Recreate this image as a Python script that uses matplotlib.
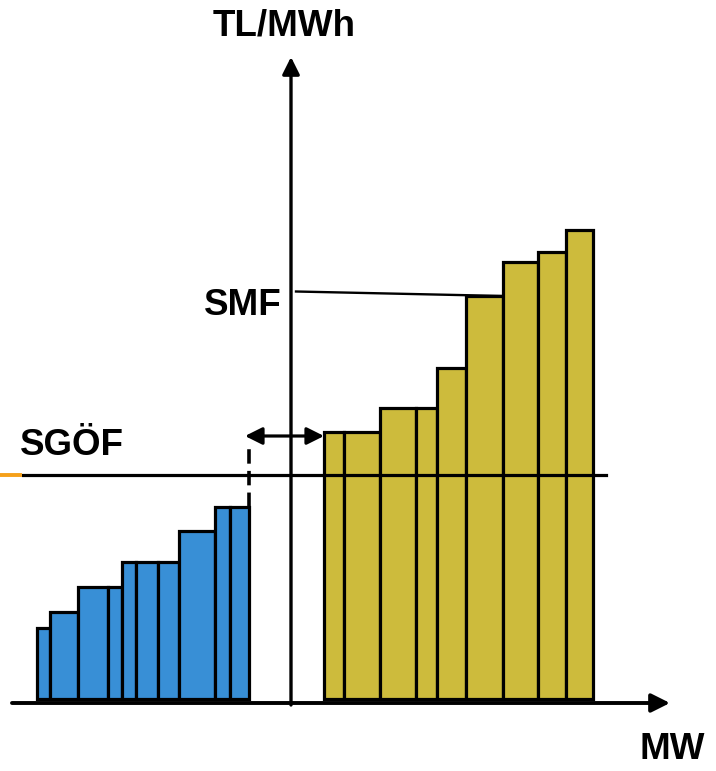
import matplotlib.pyplot as plt
import numpy as np

# schematic merit-order data (x in MW, y in TL/MWh, arbitrary units)
blue_start = -254.3
blue_widths = [13.3, 28.3, 29.4, 14.3, 14.0, 21.7, 21.6, 35.7, 15.0, 19.3]
blue_heights = [71, 87, 112, 112, 137, 137, 137, 168, 192, 192]

yellow_start = 33.0
yellow_widths = [20.3, 35.7, 36.0, 21.3, 28.7, 37.3, 35.0, 27.7, 26.7]
yellow_heights = [267, 267, 291, 291, 331, 403, 437, 447, 469]

sgof_price = 224
smf_price = 404

BLUE = '#388FD6'
YELLOW = '#CDBB3C'
ORANGE = '#F5A01A'
FONT = 'Liberation Sans'


def draw_bars(ax, start, widths, heights, color):
    lefts = start + np.concatenate([[0], np.cumsum(widths)[:-1]])
    ax.bar(lefts, heights, width=widths, align='edge', color=color,
           edgecolor='black', linewidth=2.3, zorder=2)
    return lefts


def main():
    fig = plt.figure(figsize=(7.16, 7.71), dpi=100)
    ax = fig.add_axes([0, 0, 1, 1])
    ax.set_xlim(-291, 425)
    ax.set_ylim(-72, 699)
    ax.axis('off')

    blue_lefts = draw_bars(ax, blue_start, blue_widths, blue_heights, BLUE)
    yellow_lefts = draw_bars(ax, yellow_start, yellow_widths, yellow_heights, YELLOW)

    # axes with arrows
    ax.annotate('', xy=(379, -4), xytext=(-279, -4),
                arrowprops=dict(arrowstyle='-|>', lw=2.8, color='black',
                                mutation_scale=28, shrinkA=0, shrinkB=0), zorder=3)
    ax.annotate('', xy=(0, 642), xytext=(0, -6),
                arrowprops=dict(arrowstyle='-|>', lw=2.4, color='black',
                                mutation_scale=26, shrinkA=0, shrinkB=0), zorder=3)

    # SGOF line and orange tick
    ax.plot([-268, 315], [sgof_price, sgof_price], color='black', lw=2.3, zorder=3)
    ax.plot([-291, -271], [sgof_price, sgof_price], color=ORANGE, lw=2.8, zorder=3)

    # SMF line to the marginal bar
    smf_bar = 5
    smf_x = yellow_lefts[smf_bar] + yellow_widths[smf_bar]
    ax.plot([5, smf_x], [smf_price + 3.5, yellow_heights[smf_bar]],
            color='black', lw=1.7, zorder=3)

    # gap between demand and supply blocks
    blue_end = blue_lefts[-1] + blue_widths[-1]
    ax.plot([blue_end, blue_end], [blue_heights[-1], 252], color='black', lw=2.6,
            linestyle=(0, (4, 2)), zorder=3)
    ax.annotate('', xy=(-46, 263), xytext=(yellow_start, 263),
                arrowprops=dict(arrowstyle='<|-|>', lw=2.3, color='black',
                                mutation_scale=26, shrinkA=0, shrinkB=0), zorder=4)

    text_kw = dict(fontfamily=FONT, fontweight='bold', fontsize=26.5, color='black')
    ax.text(-7, 663, 'TL/MWh', ha='center', va='baseline', **text_kw)
    ax.text(-48, 384, 'SMF', ha='center', va='baseline', **text_kw)
    ax.text(-219, 244, 'SGÖF', ha='center', va='baseline', **text_kw)
    ax.text(381, -60, 'MW', ha='center', va='baseline', **text_kw)

    fig.savefig('out.png', dpi=100)
    plt.close(fig)


if __name__ == "__main__":
    main()
